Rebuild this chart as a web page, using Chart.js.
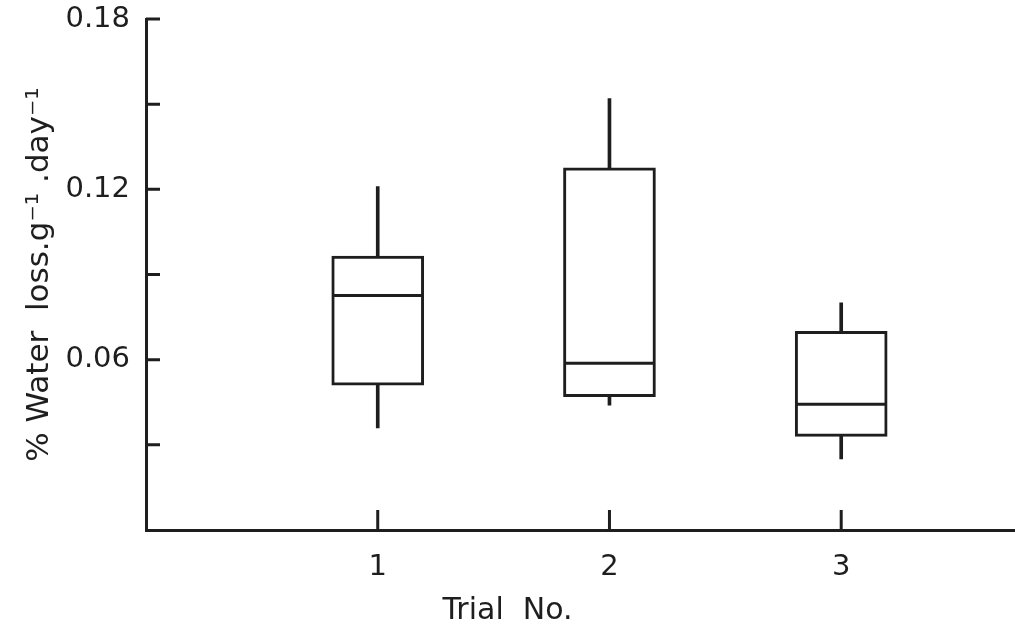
<!DOCTYPE html>
<html>
<head>
<meta charset="utf-8">
<script src="https://cdn.jsdelivr.net/npm/chart.js@4.4.1/dist/chart.umd.min.js"></script>
<style>
  html, body { margin: 0; padding: 0; background: #fff; }
  #wrap { width: 1015px; height: 630px; }
</style>
</head>
<body>
<div id="wrap"><canvas id="boxChart"></canvas></div>
<script>
// values
const trials = [1, 2, 3];
const trialLabels = ['1', '2', '3'];
const whiskerLow = [0.036, 0.044, 0.025];
const q1 = [0.051, 0.047, 0.033];
const median = [0.0826, 0.0587, 0.0443];
const q3 = [0.0965, 0.1276, 0.0700];
const whiskerHigh = [0.121, 0.152, 0.080];

const yTicks = [0, 0.03, 0.06, 0.09, 0.12, 0.15, 0.18];
const yTickLabels = ['', '', '0.06', '', '0.12', '', '0.18'];

const ink = '#1e1e1e';
const font = 'DejaVu Sans';

document.addEventListener('DOMContentLoaded', function() {
    const ctx = document.getElementById('boxChart').getContext('2d');

    // short tick marks pointing into the plot
    const inwardTicks = {
        id: 'inwardTicks',
        afterDraw(chart) {
            const { ctx, chartArea, scales: { x, y } } = chart;
            ctx.save();
            ctx.strokeStyle = ink;
            ctx.lineWidth = 3;
            ctx.beginPath();
            y.ticks.forEach(t => {
                if (t.value === 0) return;
                const py = y.getPixelForValue(t.value);
                ctx.moveTo(chartArea.left, py);
                ctx.lineTo(chartArea.left + 14, py);
            });
            x.ticks.forEach(t => {
                const px = x.getPixelForValue(t.value);
                ctx.moveTo(px, chartArea.bottom);
                ctx.lineTo(px, chartArea.bottom - 20);
            });
            ctx.stroke();
            ctx.restore();
        }
    };

    new Chart(ctx, {
        type: 'bar',
        data: {
            datasets: [
                {
                    label: 'whiskers',
                    data: trials.map((t, i) => ({ x: t, y: [whiskerLow[i], whiskerHigh[i]] })),
                    backgroundColor: ink,
                    borderWidth: 0,
                    barThickness: 3,
                    grouped: false,
                    order: 3
                },
                {
                    label: 'boxes',
                    data: trials.map((t, i) => ({ x: t, y: [q1[i], q3[i]] })),
                    backgroundColor: '#ffffff',
                    borderColor: ink,
                    borderWidth: 3,
                    borderSkipped: false,
                    barThickness: 92,
                    grouped: false,
                    order: 2
                },
                {
                    type: 'line',
                    label: 'median',
                    data: trials.map((t, i) => ({ x: t, y: median[i] })),
                    showLine: false,
                    pointStyle: 'line',
                    pointRadius: 45,
                    pointBorderWidth: 3,
                    pointBorderColor: ink,
                    order: 1
                }
            ]
        },
        options: {
            responsive: true,
            maintainAspectRatio: false,
            animation: false,
            events: [],
            layout: { autoPadding: false, padding: { top: 19, right: 0, bottom: 0, left: 0 } },
            plugins: {
                legend: { display: false },
                tooltip: { enabled: false },
                title: {
                    display: true,
                    position: 'bottom',
                    text: 'Trial  No.',
                    color: ink,
                    font: { family: font, size: 30, weight: 'normal' },
                    padding: { top: 8, bottom: 1 }
                }
            },
            scales: {
                x: {
                    type: 'linear',
                    offset: false,
                    min: 0,
                    max: 3.75,
                    afterBuildTicks: scale => {
                        scale.ticks = trials.map(v => ({ value: v }));
                    },
                    afterFit: scale => { scale.height = 55; },
                    grid: { display: false, drawTicks: false, offset: false },
                    border: { display: true, color: ink, width: 3 },
                    ticks: {
                        padding: 20,
                        color: ink,
                        font: { family: font, size: 29 },
                        maxRotation: 0,
                        callback: (v, i) => trialLabels[i]
                    }
                },
                y: {
                    min: 0,
                    max: 0.18,
                    afterBuildTicks: scale => {
                        scale.ticks = yTicks.map(v => ({ value: v }));
                    },
                    afterFit: scale => {
                        scale.width = 146;
                        scale.paddingTop = 0;
                    },
                    grid: { display: false, drawTicks: false },
                    border: { display: true, color: ink, width: 3 },
                    ticks: {
                        padding: 16,
                        color: ink,
                        font: { family: font, size: 29 },
                        callback: (v, i) => yTickLabels[i]
                    },
                    title: {
                        display: true,
                        text: '% Water  loss.g⁻¹ .day⁻¹',
                        color: ink,
                        font: { family: font, size: 31 },
                        padding: { top: 21, bottom: 0 }
                    }
                }
            }
        },
        plugins: [inwardTicks]
    });
});
</script>
</body>
</html>
